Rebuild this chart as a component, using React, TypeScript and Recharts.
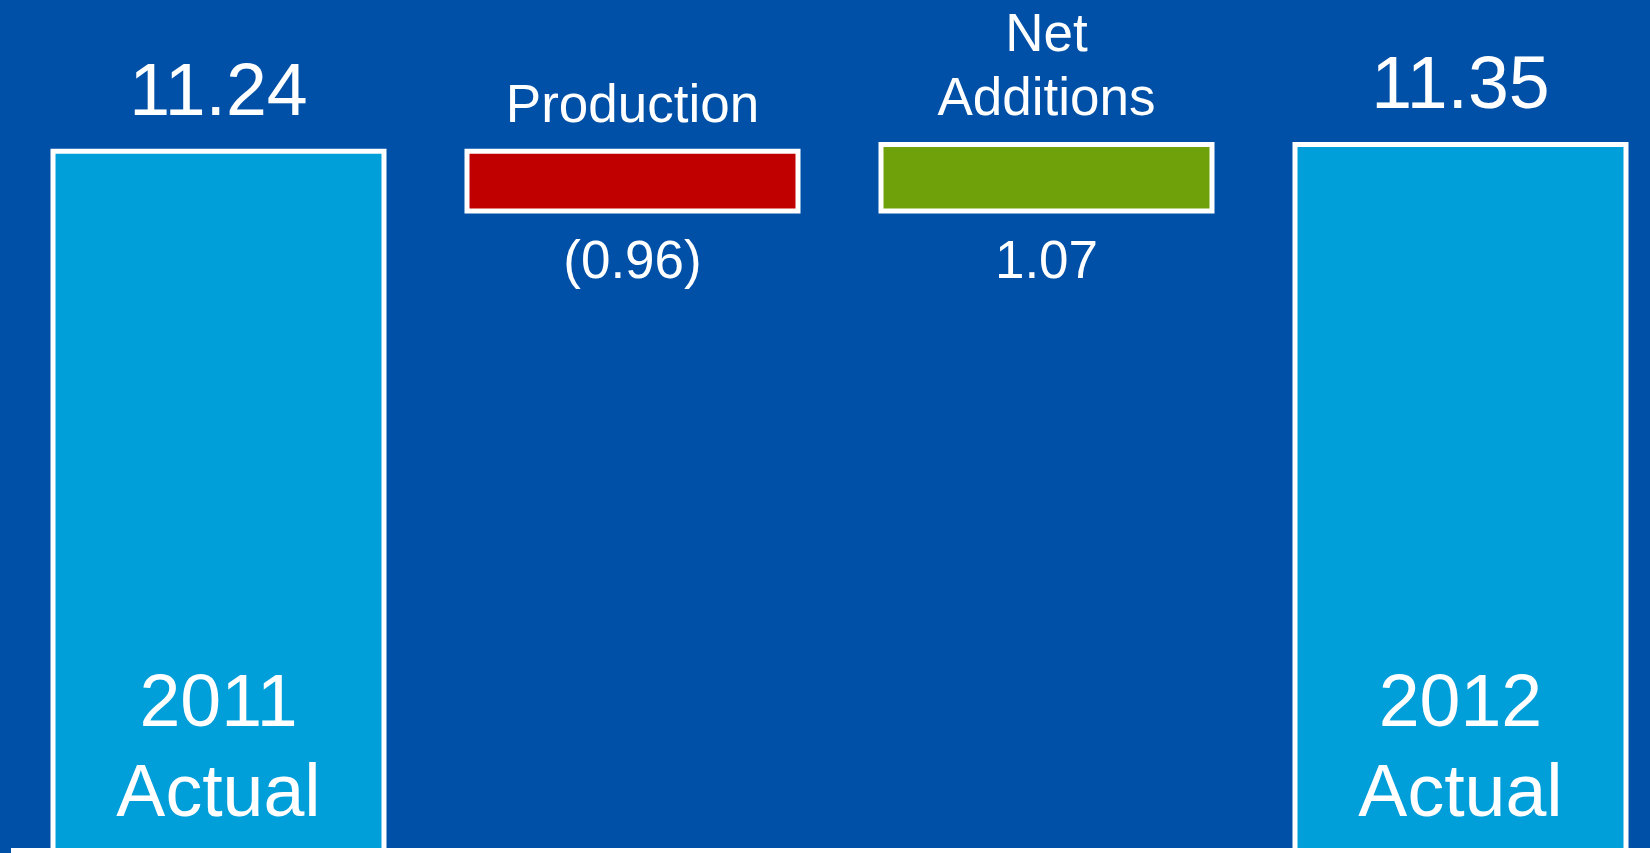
import { Bar, BarChart, Cell, LabelList, ReferenceLine, XAxis, YAxis } from 'recharts';

// Reserve bridge, 2011 -> 2012
const categories = ['2011 Actual', 'Production', 'Net Additions', '2012 Actual'];
const categoryLines = [['2011', 'Actual'], ['Production'], ['Net', 'Additions'], ['2012', 'Actual']];
const kinds = ['total', 'delta', 'delta', 'total'];
const lows = [0, 10.28, 10.28, 0];
const highs = [11.24, 11.24, 11.35, 11.35];
const valueLabels = ['11.24', '(0.96)', '1.07', '11.35'];

const BG = '#0050A8';
const FILLS = ['#009FDA', '#C00000', '#6FA20A', '#009FDA'];
const FONT = '"Liberation Sans", Arial, sans-serif';
const BIG = 73.5;
const SMALL = 53;

const data = categories.map((name, i) => ({
  name,
  range: [lows[i], highs[i]],
}));

function ValueLabel(props: any) {
  const { x, y, width, height, index } = props;
  const cx = x + width / 2;
  if (kinds[index] === 'total') {
    return (
      <text x={cx} y={y - 36} textAnchor="middle" fontSize={BIG} fill="#fff" fontFamily={FONT}>
        {valueLabels[index]}
      </text>
    );
  }
  return (
    <text x={cx} y={y + height + 67} textAnchor="middle" fontSize={SMALL} fill="#fff" fontFamily={FONT}>
      {valueLabels[index]}
    </text>
  );
}

function NameLabel(props: any) {
  const { x, y, width, height, index } = props;
  const cx = x + width / 2;
  const lines = categoryLines[index];
  if (kinds[index] === 'total') {
    const bottom = y + height;
    return (
      <text textAnchor="middle" fontSize={BIG} fill="#fff" fontFamily={FONT}>
        {lines.map((l, i) => (
          <tspan key={l} x={cx} y={bottom - 35 - (lines.length - 1 - i) * 90}>
            {l}
          </tspan>
        ))}
      </text>
    );
  }
  return (
    <text textAnchor="middle" fontSize={SMALL} fill="#fff" fontFamily={FONT}>
      {lines.map((l, i) => (
        <tspan key={l} x={cx} y={y - 29 - (lines.length - 1 - i) * 64}>
          {l}
        </tspan>
      ))}
    </text>
  );
}

export default function App() {
  return (
    <div
      style={{
        position: 'fixed',
        left: 0,
        top: 0,
        width: 1650,
        height: 853,
        overflow: 'hidden',
        background: BG,
      }}
    >
      <BarChart
        width={1667}
        height={853}
        data={data}
        margin={{ top: 104, right: 0, bottom: 2, left: 11 }}
      >
        <XAxis
          dataKey="name"
          height={0}
          tick={false}
          tickLine={false}
          axisLine={{ stroke: '#fff', strokeWidth: 6 }}
        />
        <YAxis hide domain={[0, 12]} />
        <Bar
          dataKey="range"
          barSize={331}
          stroke="#fff"
          strokeWidth={5}
          isAnimationActive={false}
        >
          {data.map((d, i) => (
            <Cell key={d.name} fill={FILLS[i]} stroke="#fff" strokeWidth={5} />
          ))}
          <LabelList dataKey="range" content={ValueLabel} />
          <LabelList dataKey="name" content={NameLabel} />
        </Bar>
        {/* baseline drawn over the bar bottoms */}
        <ReferenceLine y={0} stroke="#fff" strokeWidth={6} ifOverflow="visible" />
      </BarChart>
    </div>
  );
}
